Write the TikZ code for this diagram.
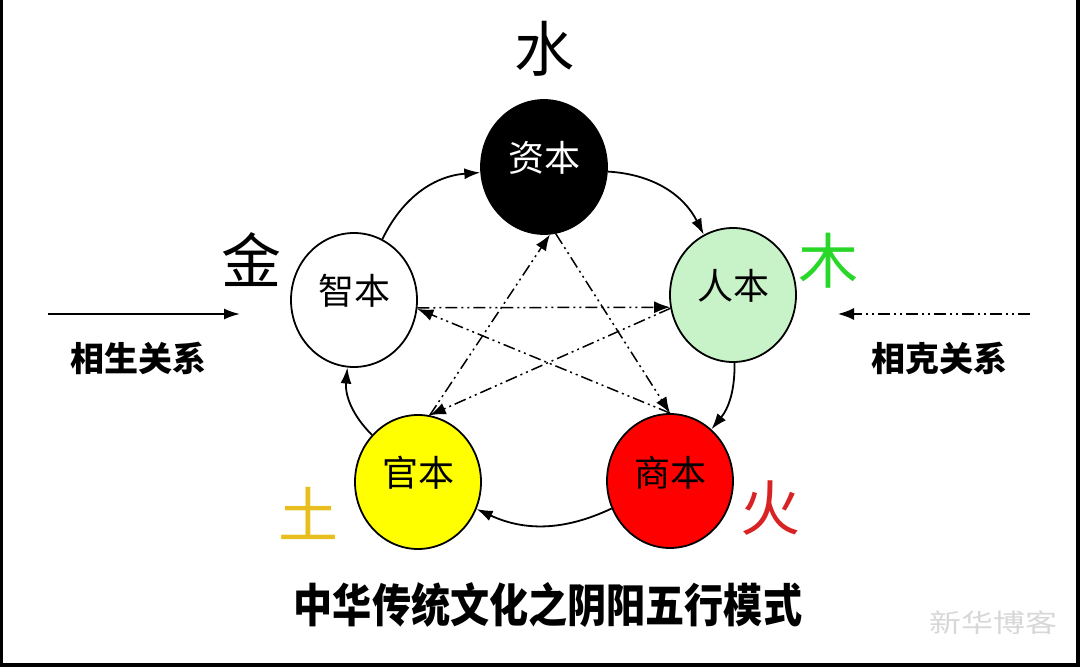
\documentclass[tikz,border=0pt]{standalone}
\usepackage{fontspec}
\usepackage{tikz}
\usetikzlibrary{arrows.meta,positioning,shapes.geometric}
\newfontfamily\cjk{Noto Sans CJK SC}
\definecolor{renlv}{RGB}{200,242,200}
\definecolor{shanghong}{RGB}{255,0,0}
\definecolor{guanhuang}{RGB}{255,255,0}
\definecolor{mulv}{RGB}{40,215,40}
\definecolor{tuhuang}{RGB}{232,190,30}
\definecolor{huohong}{RGB}{215,35,35}
\definecolor{shuiyin}{RGB}{215,215,215}
\tikzset{
  ben/.style={ellipse,draw=black,line width=0.9pt,minimum width=63pt,minimum height=67pt,
    inner sep=0pt,text height=14pt,text depth=9pt,font=\cjk\fontsize{18}{18}\selectfont},
  xing/.style={font=\cjk\fontsize{30}{30}\selectfont},
  guanxi/.style={font=\cjk\bfseries\fontsize{17}{17}\selectfont},
  sheng/.style={->,line width=0.9pt},
  ke/.style={-{Latex[length=8pt,width=6pt]},line width=0.75pt,
    dash pattern=on 6pt off 2pt on 1pt off 2pt on 1pt off 2pt},
  >={Latex[length=8pt,width=5.5pt]}}

\begin{document}
\begin{tikzpicture}[x=0.5pt,y=-0.5pt]
        \useasboundingbox (0,0) rectangle (1080,667);
        \fill[black] (0,0) rectangle (3,667);
        \fill[black] (1076,0) rectangle (1080,667);
        \fill[black] (0,663) rectangle (1080,667);

        \node[ben,fill=black,text=white] (zi) at (544,167) {资本};
        \node[ben,fill=renlv] (ren) at (733,295) {人本};
        \node[ben,fill=shanghong] (shang) at (670,481) {商本};
        \node[ben,fill=guanhuang] (guan) at (418,482) {官本};
        \node[ben,fill=white] (zhi) at (354,300) {智本};

        \node[xing] (shui) [above=8pt of zi] {水};
        \node[xing,text=mulv] (mu) at (828,261) {木};
        \node[xing,text=huohong] (huo) at (770,508) {火};
        \node[xing,text=tuhuang] (tu) at (308,513) {土};
        \node[xing] (jin) at (251,260) {金};

        % xiang sheng
        \path[sheng] (zhi) edge[bend left=30] (zi);
        \path[sheng] (zi) edge[bend left=30] (ren);
        \path[sheng] (ren) edge[bend left=20] (shang);
        \path[sheng] (shang) edge[bend left=25] (guan);
        \path[sheng] (guan) edge[bend left=25] (zhi);

        % xiang ke
        \path[ke] (zi.-80) edge (shang.north);
        \path[ke] (shang.north) edge (zhi.-8);
        \path[ke] (zhi.-7) edge (ren.191);
        \path[ke] (ren.192) edge (guan.80);
        \path[ke] (guan.80) edge (zi.-85);

        \coordinate (s1) at (48,314);
        \coordinate (s2) at (240,314);
        \path[sheng] (s1) edge (s2);
        \node[guanxi] (shengtxt) at (138,358) {相生关系};
        \coordinate (k1) at (1030,314);
        \coordinate (k2) at (838,314);
        \path[ke] (k1) edge (k2);
        \node[guanxi] (ketxt) at (939,358) {相克关系};

        \node (biaoti) at (548,605) {\cjk\bfseries\fontsize{23}{23}\selectfont\scalebox{0.85}[1]{中华传统文化之阴阳五行模式}};
        \node[text=shuiyin] (shuiyin) at (993,623) {\cjk\fontsize{16}{16}\selectfont\scalebox{1}[0.8]{新华博客}};
\end{tikzpicture}
\end{document}
